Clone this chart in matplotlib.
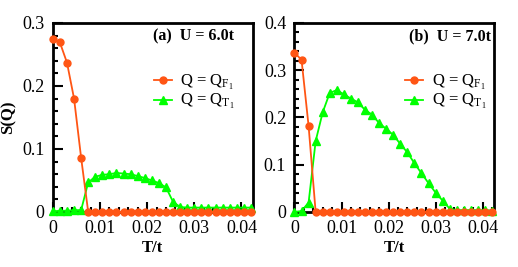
import matplotlib
matplotlib.use("Agg")
import matplotlib.pyplot as plt
from matplotlib.ticker import MultipleLocator

plt.rcParams['font.family'] = ['Liberation Serif', 'DejaVu Serif']
plt.rcParams['mathtext.fontset'] = 'custom'
plt.rcParams['mathtext.rm'] = 'Liberation Serif'
plt.rcParams['mathtext.it'] = 'Liberation Serif:italic'

T = [0.0, 0.0015, 0.003, 0.0045, 0.006, 0.0075, 0.009, 0.0105, 0.012, 0.0135,
     0.015, 0.0165, 0.018, 0.0195, 0.021, 0.0225, 0.024, 0.0255, 0.027, 0.0285,
     0.03, 0.0315, 0.033, 0.0345, 0.036, 0.0375, 0.039, 0.0405, 0.042]

# Panel (a) U = 6.0t
sF_a = [0.275, 0.269, 0.237, 0.180, 0.086, 0.0, 0.0, 0.0, 0.0, 0.0,
        0.0, 0.0, 0.0, 0.0, 0.0, 0.0, 0.0, 0.0, 0.0, 0.0,
        0.0, 0.0, 0.0, 0.0, 0.0, 0.0, 0.0, 0.0, 0.0]
sT_a = [0.001, 0.002, 0.002, 0.003, 0.003, 0.047, 0.056, 0.059, 0.060, 0.062,
        0.061, 0.060, 0.057, 0.054, 0.050, 0.046, 0.039, 0.016, 0.008, 0.007,
        0.007, 0.007, 0.007, 0.007, 0.007, 0.007, 0.007, 0.007, 0.007]

# Panel (b) U = 7.0t
sF_b = [0.337, 0.322, 0.182, 0.0, 0.0, 0.0, 0.0, 0.0, 0.0, 0.0,
        0.0, 0.0, 0.0, 0.0, 0.0, 0.0, 0.0, 0.0, 0.0, 0.0,
        0.0, 0.0, 0.0, 0.0, 0.0, 0.0, 0.0, 0.0, 0.0]
sT_b = [0.0, 0.002, 0.020, 0.150, 0.211, 0.252, 0.258, 0.249, 0.240, 0.232,
        0.216, 0.206, 0.188, 0.176, 0.163, 0.144, 0.126, 0.103, 0.082, 0.061,
        0.041, 0.024, 0.007, 0.004, 0.004, 0.004, 0.004, 0.004, 0.003]

yticks_a = [0, 0.1, 0.2, 0.3]
yticks_b = [0, 0.1, 0.2, 0.3, 0.4]
xticks = [0, 0.01, 0.02, 0.03, 0.04]
xticklabels = ['0', '0.01', '0.02', '0.03', '0.04']

panels = [
    dict(F=sF_a, Tv=sT_a, ylim=0.3, yt=yticks_a, title='(a)  U = 6.0t',
         tx=0.905, legx=0.505),
    dict(F=sF_b, Tv=sT_b, ylim=0.4, yt=yticks_b, title='(b)  U = 7.0t',
         tx=0.985, legx=0.555),
]

orange = '#ff5514'
green = '#00ff00'

fig = plt.figure(figsize=(5.18, 2.67), dpi=100)
axes_pos = [[0.102, 0.206, 0.386, 0.708], [0.5685, 0.206, 0.385, 0.708]]

for i, (p, pos) in enumerate(zip(panels, axes_pos)):
    ax = fig.add_axes(pos)
    ax.plot(T, p['Tv'], '-^', color=green, lw=1.3, ms=5.5, clip_on=False, zorder=3,
            label=r'Q = Q$_{\mathrm{T}_1}$')
    ax.plot(T, p['F'], '-o', color=orange, lw=1.3, ms=5, clip_on=False, zorder=4,
            label=r'Q = Q$_{\mathrm{F}_1}$')
    ax.set_xlim(0, 0.0424)
    ax.set_ylim(0, p['ylim'])
    ax.xaxis.set_minor_locator(MultipleLocator(0.002))
    ax.yaxis.set_minor_locator(MultipleLocator(0.02))
    ax.set_xticks(xticks)
    ax.set_xticklabels(xticklabels)
    ax.set_yticks(p['yt'])
    ax.set_yticklabels(['%g' % v for v in p['yt']])
    ax.tick_params(which='both', direction='in', top=False, right=False,
                   width=1.5, labelsize=13, pad=6)
    ax.tick_params(which='major', length=7)
    ax.tick_params(which='minor', length=3.5)
    for s in ax.spines.values():
        s.set_linewidth(2.0)
    ax.set_xlabel('T/t', fontsize=12, fontweight='bold', labelpad=2)
    if i == 0:
        ax.set_ylabel('S(Q)', fontsize=12, fontweight='bold', labelpad=4)
    ax.text(p['tx'], 0.93, p['title'], transform=ax.transAxes, ha='right', va='center',
            fontsize=11.5, fontweight='bold')
    h, l = ax.get_legend_handles_labels()
    ax.legend(h[::-1], l[::-1], loc='center left', bbox_to_anchor=(p['legx'], 0.635),
              frameon=False, fontsize=12, handlelength=1.1, handletextpad=0.5,
              labelspacing=0.05, borderpad=0, borderaxespad=0)

fig.savefig('out.png', dpi=100)
